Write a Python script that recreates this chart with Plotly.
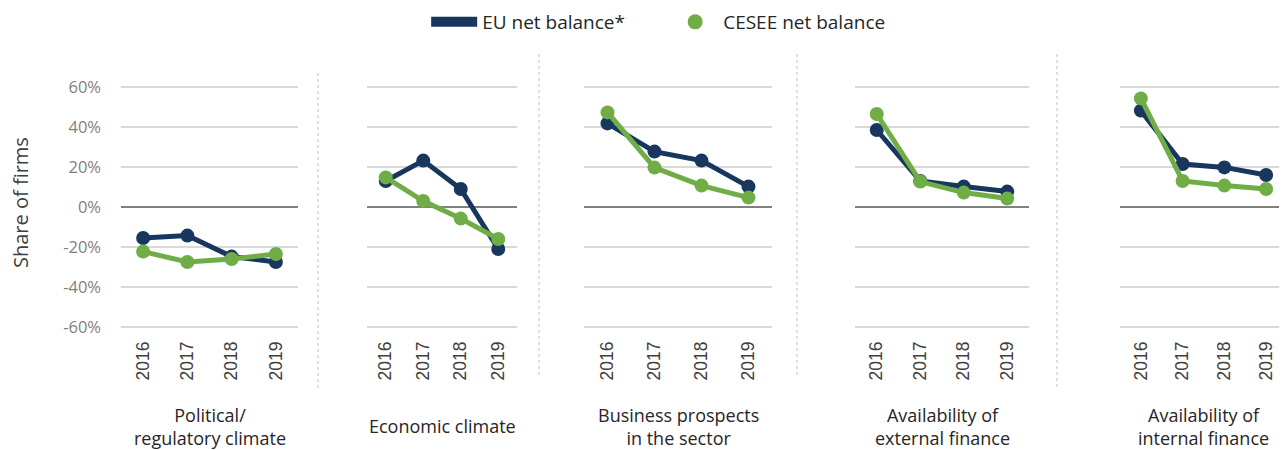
import plotly.graph_objects as go

years = ["2016", "2017", "2018", "2019"]
panels = ["Political/<br>regulatory climate", "Economic climate",
          "Business prospects<br>in the sector", "Availability of<br>external finance",
          "Availability of<br>internal finance"]
eu_political = [-15.5, -14.3, -24.8, -27.5]
eu_economic = [13, 23.2, 9, -21]
eu_business = [41.8, 27.7, 23.2, 10.2]
eu_external = [38.5, 13, 10.2, 7.7]
eu_internal = [48.2, 21.5, 19.8, 16]
cesee_political = [-22.3, -27.5, -26, -23.5]
cesee_economic = [14.8, 3, -5.8, -16]
cesee_business = [47.3, 19.7, 10.7, 4.7]
cesee_external = [46.5, 12.7, 7.2, 4.2]
cesee_internal = [54.3, 13, 10.7, 9]
y_ticks = [-60, -40, -20, 0, 20, 40, 60]

eu_series = [eu_political, eu_economic, eu_business, eu_external, eu_internal]
cesee_series = [cesee_political, cesee_economic, cesee_business, cesee_external, cesee_internal]

# page body has an 8px margin, so figure coords = screen coords - 8
OFF = 8
W, H = 1287 - OFF, 450 - OFF
EU_C = "#17375E"
CE_C = "#70AD47"


def fx(px):
    return (px - OFF) / W


def fy(py):
    return 1 - (py - OFF) / H


# plot area screen-pixel extents for each panel
px_domains = [(121, 298), (367, 517), (584, 772), (855, 1029), (1120, 1287)]
y_top, y_bot = 85, 329
ydom = [fy(y_bot), fy(y_top)]

fig = go.Figure()
layout = {}
for i, (x0, x1) in enumerate(px_domains):
    n = "" if i == 0 else str(i + 1)
    xa = "x" + n
    ya = "y" + n
    fig.add_trace(go.Scatter(x=years, y=eu_series[i], mode="lines+markers",
                             line=dict(color=EU_C, width=5), marker=dict(color=EU_C, size=14),
                             showlegend=False, xaxis=xa, yaxis=ya))
    fig.add_trace(go.Scatter(x=years, y=cesee_series[i], mode="lines+markers",
                             line=dict(color=CE_C, width=5), marker=dict(color=CE_C, size=14),
                             showlegend=False, xaxis=xa, yaxis=ya))
    layout["xaxis" + n] = dict(domain=[fx(x0), min(fx(x1), 1)], anchor=ya, type="category",
                               range=[-0.5, 3.5],
                               tickangle=-90, showgrid=False, zeroline=False, showline=False,
                               ticks="", tickfont=dict(family="Liberation Sans", size=17.5, color="#404040"),
                               ticklabelstandoff=8, fixedrange=True)
    layout["yaxis" + n] = dict(domain=ydom, anchor=xa, range=[-61, 61], tickvals=y_ticks,
                               ticktext=[f"{v}%" for v in y_ticks],
                               showticklabels=(i == 0), showgrid=True, gridcolor="#D9D9D9",
                               gridwidth=1.5, zeroline=True, zerolinecolor="#808080",
                               zerolinewidth=1.5, showline=False, ticks="",
                               tickfont=dict(family="Open Sans", size=16.5, color="#7F7F7F"),
                               ticklabelstandoff=19, fixedrange=True)
    # category title
    fig.add_annotation(x=fx((x0 + x1) / 2), y=fy(426), xref="paper", yref="paper",
                       text=panels[i], showarrow=False, xanchor="center", yanchor="middle",
                       font=dict(family="Open Sans", size=18, color="#262626"), align="center")

# y-axis title
fig.add_annotation(x=fx(20), y=fy(203), xref="paper", yref="paper", text="Share of firms",
                   textangle=-90, showarrow=False, xanchor="center", yanchor="middle",
                   font=dict(family="Open Sans", size=20, color="#404040"))

# dotted separators
seps = [(318, 73, 388), (539, 54, 377), (797, 54, 377), (1057, 54, 388)]
for sx, sy0, sy1 in seps:
    fig.add_shape(type="line", xref="paper", yref="paper", x0=fx(sx), x1=fx(sx),
                  y0=fy(sy0), y1=fy(sy1), line=dict(color="#BFBFBF", width=1, dash="dot"))

# legend dummies
fig.add_trace(go.Scatter(x=[None], y=[None], mode="lines", name="EU net balance*",
                         line=dict(color=EU_C, width=12)))
fig.add_trace(go.Scatter(x=[None], y=[None], mode="markers", name="CESEE net balance",
                         marker=dict(color=CE_C, size=15)))

fig.update_layout(**layout)
fig.update_layout(width=W, height=H, margin=dict(l=0, r=0, t=0, b=0, autoexpand=False),
                  paper_bgcolor="white", plot_bgcolor="white",
                  legend=dict(orientation="h", x=fx(430) - 0.003, xanchor="left", y=fy(22), yanchor="middle",
                              font=dict(family="Open Sans", size=19, color="#262626"),
                              itemwidth=46, traceorder="normal", entrywidth=180,
                              entrywidthmode="pixels"),
                  showlegend=True)
fig.write_html("out.html")
